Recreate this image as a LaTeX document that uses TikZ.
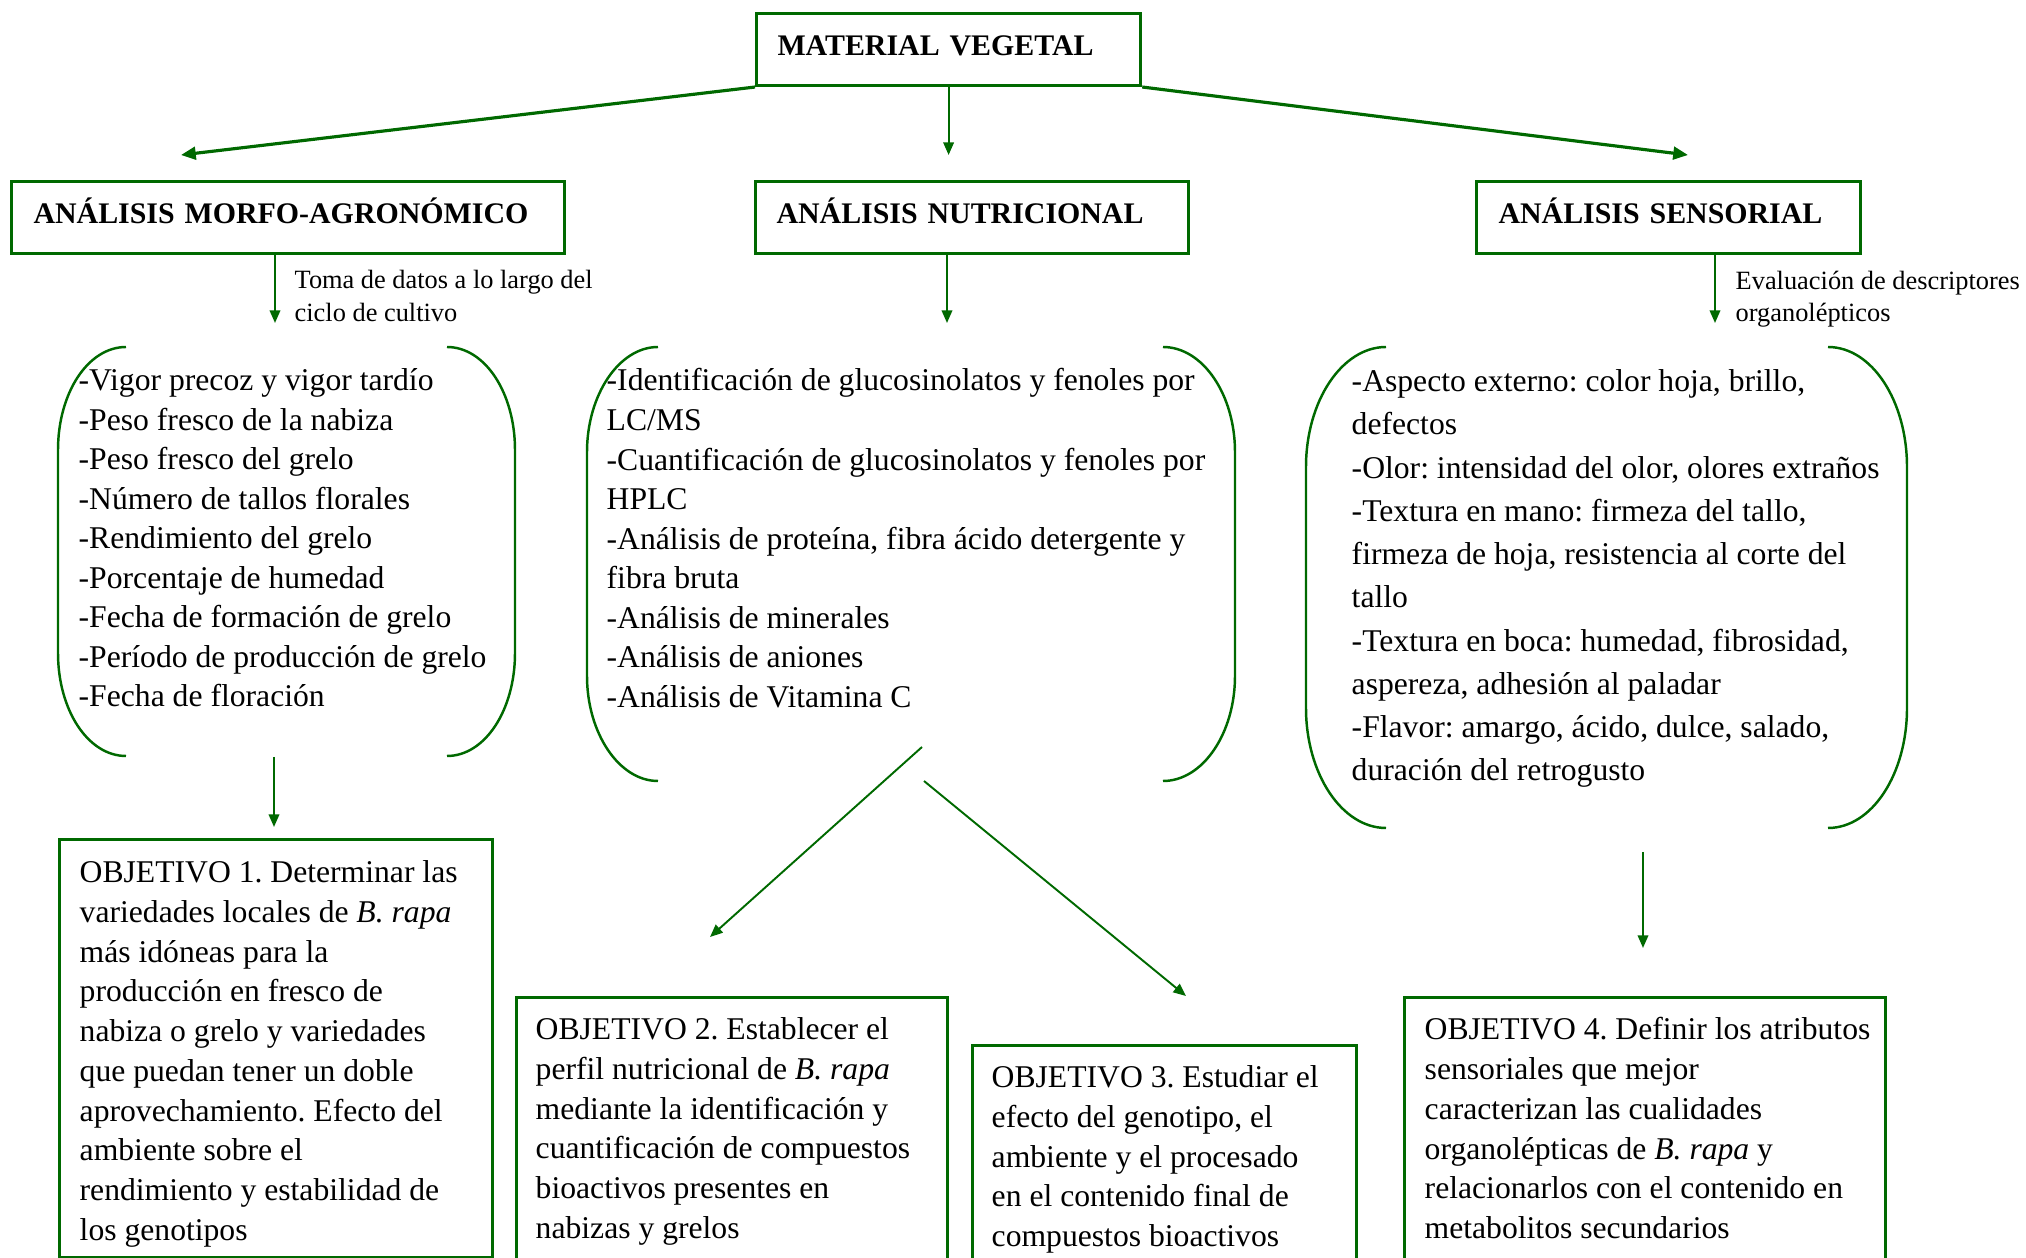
\documentclass[tikz,border=0pt]{standalone}
\usepackage{fontspec}
\setmainfont{Liberation Serif}
\usetikzlibrary{arrows.meta}
\definecolor{verde}{RGB}{0,105,0}
\frenchspacing

\begin{document}
\begin{tikzpicture}[x=0.01cm,y=-0.01cm,
  caja/.style={draw=verde,line width=0.85pt,anchor=north west,inner sep=0pt},
  titulo/.style={caja,font=\fontsize{8.5}{10}\selectfont\bfseries,minimum height=0.72cm,text height=0.7em,text depth=0.36em,align=left},
  lista/.style={anchor=north west,inner sep=0pt,align=left,font=\fontsize{9}{11.24}\selectfont,execute at begin node=\strut},
  nota/.style={anchor=north west,inner sep=0pt,align=left,font=\fontsize{7.5}{9.1}\selectfont,execute at begin node=\strut},
  flecha/.style={draw=verde,line width=0.55pt,-{Triangle[length=3.6pt,width=3pt]}},
  flechagruesa/.style={draw=verde,line width=0.9pt,-{Triangle[length=4.2pt,width=3.6pt]}},
  corchete/.style={draw=verde,line width=0.7pt}]

  \useasboundingbox (0,0) rectangle (2026,1258);
  \clip (0,0) rectangle (2026,1258);

  % Material vegetal y analisis

  \node[titulo,text width=3.42cm,inner xsep=0.21cm] (mat) at (755,12) {MATERIAL VEGETAL};

  \node[titulo,text width=5.09cm,inner xsep=0.22cm] (morfo) at (10,180) {ANÁLISIS MORFO-AGRONÓMICO};

  \node[titulo,text width=3.91cm,inner xsep=0.21cm] (nutri) at (754,180) {ANÁLISIS NUTRICIONAL};

  \node[titulo,text width=3.40cm,inner xsep=0.22cm] (sens) at (1475,180) {ANÁLISIS SENSORIAL};

  \coordinate (pmorfo) at (181,155);
  \coordinate (pnutri) at (947,155);
  \coordinate (psens) at (1688,155);

  \draw[flechagruesa] (mat.south west) to (pmorfo);
  \draw[flecha] (mat.south) to (mat.south |- pnutri);
  \draw[flechagruesa] (mat.south east) to (psens);

  \coordinate (tmorfo) at (275,323);
  \coordinate (tnutri) at (947,323);
  \coordinate (tsens) at (1715,323);

  \draw[flecha] (morfo.south -| tmorfo) to (tmorfo);
  \draw[flecha] (nutri.south -| tnutri) to (tnutri);
  \draw[flecha] (sens.south -| tsens) to (tsens);

  \node[nota] (nmorfo) at (294,270) {Toma de datos a lo largo del\\ciclo de cultivo};
  \node[nota] (nsens) at (1735,270) {Evaluación de descriptores\\organolépticos};

  % Listas

  \draw[corchete] (126,347) .. controls (88,347) and (58,393) .. (58,450) -- (58,653) .. controls (58,710) and (88,756) .. (126,756);
  \draw[corchete] (447,347) .. controls (485,347) and (515,393) .. (515,450) -- (515,653) .. controls (515,710) and (485,756) .. (447,756);

  \node[lista] (lmorfo) at (78,368) {-Vigor precoz y vigor tardío\\
    -Peso fresco de la nabiza\\
    -Peso fresco del grelo\\
    -Número de tallos florales\\
    -Rendimiento del grelo\\
    -Porcentaje de humedad\\
    -Fecha de formación de grelo\\
    -Período de producción de grelo\\
    -Fecha de floración};

  \draw[corchete] (658,347) .. controls (619,347) and (587,395) .. (587,452) -- (587,676) .. controls (587,733) and (619,781) .. (658,781);
  \draw[corchete] (1163,347) .. controls (1203,347) and (1235,395) .. (1235,452) -- (1235,676) .. controls (1235,733) and (1203,781) .. (1163,781);

  \node[lista] (lnutri) at (606,368) {-Identificación de glucosinolatos y fenoles por\\
    LC/MS\\
    -Cuantificación de glucosinolatos y fenoles por\\
    HPLC\\
    -Análisis de proteína, fibra ácido detergente y\\
    fibra bruta\\
    -Análisis de minerales\\
    -Análisis de aniones\\
    -Análisis de Vitamina C};

  \draw[corchete] (1386,347) .. controls (1342,347) and (1306,401) .. (1306,467) -- (1306,708) .. controls (1306,774) and (1342,828) .. (1386,828);
  \draw[corchete] (1828,347) .. controls (1872,347) and (1907,401) .. (1907,467) -- (1907,708) .. controls (1907,774) and (1872,828) .. (1828,828);

  \node[lista,font=\fontsize{9}{12.3}\selectfont] (lsens) at (1351,369) {-Aspecto externo: color hoja, brillo,\\
    defectos\\
    -Olor: intensidad del olor, olores extraños\\
    -Textura en mano: firmeza del tallo,\\
    firmeza de hoja, resistencia al corte del\\
    tallo\\
    -Textura en boca: humedad, fibrosidad,\\
    aspereza, adhesión al paladar\\
    -Flavor: amargo, ácido, dulce, salado,\\
    duración del retrogusto};

  % Objetivos

  \node[caja,minimum width=4.33cm,minimum height=4.18cm] (obj1) at (58,838) {};
  \node[caja,minimum width=4.31cm,minimum height=3.2cm] (obj2) at (515,996) {};
  \node[caja,minimum width=3.84cm,minimum height=2.8cm] (obj3) at (971,1044) {};
  \node[caja,minimum width=4.81cm,minimum height=3.2cm] (obj4) at (1403,996) {};

  \coordinate (bmorfo) at (274,757);
  \coordinate (bnutria) at (922,747);
  \coordinate (bnutrib) at (924,781);
  \coordinate (bsens) at (1643,852);
  \coordinate (tobj2) at (710,937);
  \coordinate (tobj3) at (1186,996);

  \draw[flecha,shorten >=0.11cm] (bmorfo) to (bmorfo |- obj1.north);
  \draw[flecha] (bnutria) to (tobj2);
  \draw[flecha] (bnutrib) to (tobj3);
  \draw[flecha,shorten >=0.48cm] (bsens) to (bsens |- obj4.north);

  \node[lista,font=\fontsize{9}{11.3}\selectfont] (tx1) at (79,860) {OBJETIVO 1. Determinar las\\
    variedades locales de \textit{B. rapa}\\
    más idóneas para la\\
    producción en fresco de\\
    nabiza o grelo y variedades\\
    que puedan tener un doble\\
    aprovechamiento. Efecto del\\
    ambiente sobre el\\
    rendimiento y estabilidad de\\
    los genotipos};

  \node[lista,font=\fontsize{9}{11.3}\selectfont] (tx2) at (535,1017) {OBJETIVO 2. Establecer el\\
    perfil nutricional de \textit{B. rapa}\\
    mediante la identificación y\\
    cuantificación de compuestos\\
    bioactivos presentes en\\
    nabizas y grelos};

  \node[lista,font=\fontsize{9}{11.3}\selectfont] (tx3) at (991,1065) {OBJETIVO 3. Estudiar el\\
    efecto del genotipo, el\\
    ambiente y el procesado\\
    en el contenido final de\\
    compuestos bioactivos};

  \node[lista,font=\fontsize{9}{11.3}\selectfont] (tx4) at (1424,1017) {OBJETIVO 4. Definir los atributos\\
    sensoriales que mejor\\
    caracterizan las cualidades\\
    organolépticas de \textit{B. rapa} y\\
    relacionarlos con el contenido en\\
    metabolitos secundarios};

\end{tikzpicture}
\end{document}
